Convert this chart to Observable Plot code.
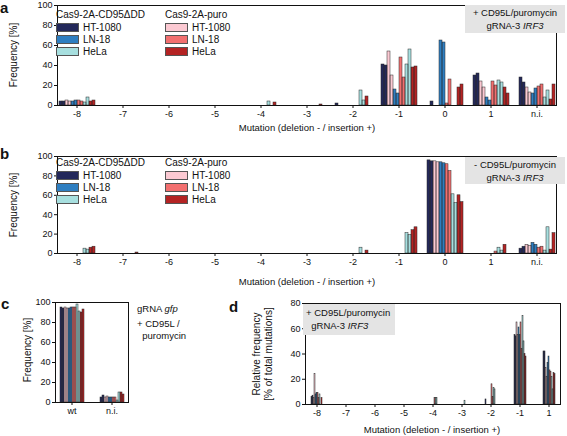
<!DOCTYPE html>
<html><head><meta charset="utf-8">
<script src="https://cdn.jsdelivr.net/npm/d3@7"></script>
<script src="https://cdn.jsdelivr.net/npm/@observablehq/plot@0.6"></script>
<style>
body{margin:0;background:#fff;font-family:"Liberation Sans",Arial,sans-serif;color:#111;}
#root{position:relative;width:567px;height:436px;overflow:hidden;}
.abs{position:absolute;white-space:nowrap;line-height:1;}
.plot{position:absolute;}
.letter{font-weight:bold;font-size:15px;}
.t{font-size:9.5px;}
.ytitle{position:absolute;font-size:10px;white-space:nowrap;transform:translate(-50%,-50%) rotate(-90deg);line-height:1.15;text-align:center;}
.box{position:absolute;background:#e4e4e4;font-size:9.5px;text-align:center;line-height:12.5px;}
.sw{position:absolute;width:23px;height:9px;border:1px solid #555;box-sizing:border-box;}
</style></head><body><div id="root"></div>
<script>
// ---------- data ----------
const cellLines = ["HT-1080", "LN-18", "HeLa"];
const constructs = ["Cas9-2A-CD95ΔDD", "Cas9-2A-puro"];
const replicates = [1, 2];
const colorsDD = ["#23285a", "#2e7ec1", "#a7dfdf"];
const colorsPuro = ["#fbc9d2", "#f26f6f", "#b42323"];

const catsAB = ["-8", "-7", "-6", "-5", "-4", "-3", "-2", "-1", "0", "1", "n.i."];
const catsC = ["wt", "n.i."];
const catsD = ["-8", "-7", "-6", "-5", "-4", "-3", "-2", "-1", "1"];

// bar order inside a group: HT-1080 ΔDD r1,r2, puro r1,r2, LN-18 ..., HeLa ...
const valuesA = [
  [4, 4, 5, 4, 4, 5, 5, 4, 3, 8, 4, 5],
  [0, 0, 0, 0, 0, 0, 0, 0, 0, 0, 0, 0],
  [0, 0, 0, 0, 0, 0, 0, 0, 0, 0, 0, 0],
  [0, 0, 0, 0, 0, 0, 0, 0, 0, 0, 0, 0],
  [0, 0, 0, 0, 0, 0, 0, 0, 4, 0, 3, 0],
  [0, 0, 0, 0, 0, 0, 0, 0, 0, 0, 1, 0],
  [2, 0, 0, 0, 0, 0, 0, 0, 15, 5, 9, 0],
  [41, 40, 54, 30, 16, 12, 48, 28, 41, 56, 38, 39],
  [0, 4, 0, 0, 65, 63, 2, 26, 0, 0, 18, 21],
  [30, 32, 24, 18, 8, 5, 24, 20, 25, 23, 18, 12],
  [28, 23, 18, 13, 12, 17, 19, 21, 8, 15, 6, 21]
];
const valuesB = [
  [0, 0, 0, 0, 0, 0, 0, 0, 5, 4, 6, 7],
  [0, 0, 0, 0, 0, 0, 0, 0, 0, 0, 1, 0],
  [0, 0, 0, 0, 0, 0, 0, 0, 0, 0, 0, 0],
  [0, 0, 0, 0, 0, 0, 0, 0, 0, 0, 0, 0],
  [0, 0, 0, 0, 0, 0, 0, 0, 0, 0, 0, 0],
  [0, 0, 0, 0, 0, 0, 0, 0, 0, 0, 0, 0],
  [0, 0, 0, 0, 0, 0, 0, 0, 6, 0, 3, 0],
  [0, 0, 0, 0, 0, 0, 0, 0, 21, 19, 24, 27],
  [96, 95, 95, 94, 94, 93, 92, 85, 61, 52, 60, 53],
  [0, 0, 0, 0, 0, 0, 0, 2, 6, 3, 9, 0],
  [5, 7, 9, 8, 11, 9, 6, 7, 3, 27, 4, 21]
];
const valuesC = [
  [95, 94, 95, 94, 94, 95, 95, 95, 98, 91, 90, 93],
  [5, 7, 5, 6, 5, 5, 5, 5, 2, 10, 10, 8]
];
const valuesD = [
  [6, 7, 5, 24, 8, 9, 9, 5, 8, 0, 5, 0],
  [0, 0, 0, 0, 0, 0, 0, 0, 0, 0, 0, 0],
  [0, 0, 0, 0, 0, 0, 0, 0, 0, 0, 0, 0],
  [0, 0, 0, 0, 0, 0, 0, 0, 0, 0, 0, 0],
  [0, 0, 0, 0, 0, 0, 0, 5, 5, 5, 0, 0],
  [0, 0, 0, 0, 0, 0, 0, 0, 3, 0, 0, 0],
  [4, 0, 0, 0, 0, 0, 16, 6, 13, 12, 0, 0],
  [55, 54, 65, 55, 61, 55, 65, 44, 70, 50, 40, 38],
  [42, 42, 29, 22, 33, 38, 27, 26, 22, 12, 25, 24]
];
const ticksY100 = [0, 20, 40, 60, 80, 100];
const ticksY80 = [0, 20, 40, 60, 80];

// ---------- derived ----------
const barKeys = [], barColors = [];
cellLines.forEach((cl, i) => {
  constructs.forEach((cs, k) => {
    replicates.forEach(r => {
      barKeys.push(`${cs}|${cl}|${r}`);
      barColors.push(k === 0 ? colorsDD[i] : colorsPuro[i]);
    });
  });
});

const root = document.getElementById("root");
const FONT = "Liberation Sans, Arial, sans-serif";

function add(html, cls, left, top, style = "") {
  const d = document.createElement("div");
  d.className = cls;
  d.style.left = left + "px";
  d.style.top = top + "px";
  if (style) d.style.cssText += style;
  d.innerHTML = html;
  root.appendChild(d);
  return d;
}

function grouped({cats, rows, yDomain, yTicks, left, top, width, height, mt, mb, ml, mr, padIn, padOut}) {
  const data = [];
  cats.forEach((c, ci) => rows[ci].forEach((v, j) => data.push({cat: c, key: barKeys[j], value: v})));
  const svg = Plot.plot({
    width, height,
    marginTop: mt, marginBottom: mb, marginLeft: ml, marginRight: mr,
    style: {fontFamily: FONT, fontSize: "9px", color: "#111", background: "transparent", overflow: "visible"},
    fx: {domain: cats, paddingInner: padIn, paddingOuter: padOut, label: null, tickSize: 3, tickPadding: 2},
    x: {domain: barKeys, axis: null, padding: 0},
    y: {domain: yDomain, ticks: yTicks, tickSize: 3, tickPadding: 2, label: null},
    color: {domain: barKeys, range: barColors},
    marks: [
      Plot.barY(data, {fx: "cat", x: "key", y: "value", fill: "key", inset: 0}),
      Plot.barY(data.filter(d => d.value > 0), {fx: "cat", x: "key", y: "value", stroke: "#2a2a2a", strokeWidth: 0.5, fill: "none", inset: 0}),
      Plot.frame({facet: "super", stroke: "#111", strokeWidth: 1})
    ]
  });
  const wrap = document.createElement("div");
  wrap.className = "plot";
  wrap.style.left = left + "px";
  wrap.style.top = top + "px";
  wrap.appendChild(svg);
  root.appendChild(wrap);
}

// panel a
grouped({cats: catsAB, rows: valuesA, yDomain: [0, 100], yTicks: ticksY100, left: 0, top: 0, width: 567, height: 122, mt: 5, mb: 17, ml: 48, mr: 1, padIn: 0.15, padOut: 0.1});
// panel b
grouped({cats: catsAB, rows: valuesB, yDomain: [0, 100], yTicks: ticksY100, left: 0, top: 150, width: 567, height: 120, mt: 6, mb: 17, ml: 48, mr: 1, padIn: 0.15, padOut: 0.1});
// panel c
grouped({cats: catsC, rows: valuesC, yDomain: [0, 100], yTicks: ticksY100, left: 0, top: 296, width: 140, height: 123, mt: 6, mb: 17, ml: 50, mr: 7, padIn: 0.17, padOut: 0.1});
// panel d
grouped({cats: catsD, rows: valuesD, yDomain: [0, 80], yTicks: ticksY80, left: 280, top: 297, width: 287, height: 124, mt: 6, mb: 17, ml: 22, mr: 4, padIn: 0.2, padOut: 0.05});

// letters
add("a", "abs letter", 0, 0);
add("b", "abs letter", 0, 146);
add("c", "abs letter", 1, 296);
add("d", "abs letter", 229, 299);

// axis titles
const xTitle = "Mutation (deletion - / insertion +)";
add(xTitle, "abs t", 307, 123, "transform:translateX(-50%)");
add(xTitle, "abs t", 307, 277, "transform:translateX(-50%)");
add(xTitle, "abs t", 432, 425, "transform:translateX(-50%)");
add("Frequency [%]", "ytitle", 14, 55);
add("Frequency [%]", "ytitle", 14, 205);
add("Frequency [%]", "ytitle", 28, 350);
add("Relative frequency<br>[% of total mutations]", "ytitle", 262, 354);

// legends (panels a, b)
function legend(dy) {
  constructs.forEach((cs, k) => {
    const x0 = k === 0 ? 56 : 165;
    add(cs, "abs", x0, dy + 10, "font-size:10px");
    cellLines.forEach((cl, i) => {
      const y = dy + 23 + i * 12;
      const s = add("", "sw", x0, y);
      s.style.background = k === 0 ? colorsDD[i] : colorsPuro[i];
      add(cl, "abs", x0 + 27, y - 0.5, "font-size:10px");
    });
  });
}
legend(0);
legend(148);

// annotation boxes
add("+ CD95L/puromycin<br>gRNA-3 <i>IRF3</i>", "box", 465, 5, "width:100px;height:28px;padding-top:2px;box-sizing:border-box;");
add("- CD95L/puromycin<br>gRNA-3 <i>IRF3</i>", "box", 465, 157, "width:100px;height:27px;padding-top:2px;box-sizing:border-box;");
add("+ CD95L/puromycin<br>&nbsp;&nbsp;gRNA-3 <i>IRF3</i>", "box", 303, 304, "width:92px;height:31px;padding-top:3px;text-align:left;padding-left:3px;box-sizing:border-box;");
add("gRNA <i>gfp</i>", "abs t", 137, 304);
add("+ CD95L /<br>&nbsp;&nbsp;puromycin", "abs t", 137, 318, "line-height:12px");
</script>
</body></html>
